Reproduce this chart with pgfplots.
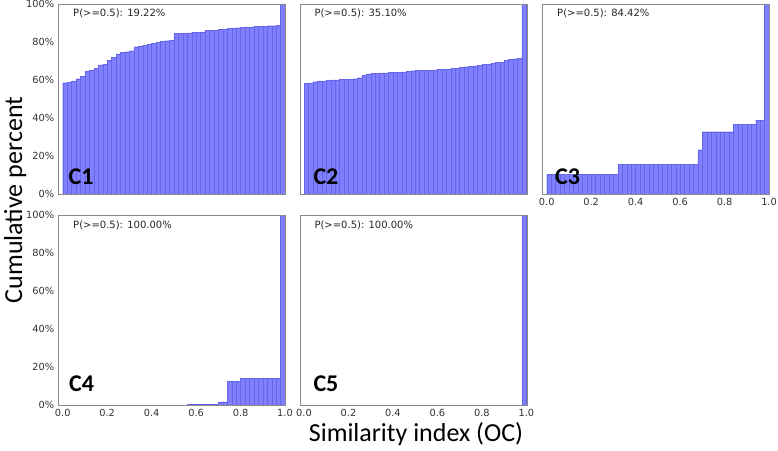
\documentclass[border=0pt]{standalone}
\usepackage{fontspec}
\setmainfont{DejaVu Sans}
\newfontfamily\dejavu{DejaVu Sans}
\newfontfamily\carlito{Carlito}
\usepackage{pgfplots}
\pgfplotsset{compat=1.18}
\definecolor{barfill}{HTML}{7F7FFF}
\definecolor{baredge}{HTML}{6666E8}
\definecolor{framegray}{HTML}{8A8A8A}
\definecolor{ticktext}{HTML}{333333}
\pgfplotsset{
  panel/.style={
    scale only axis, width=227pt, height=190pt,
    xmin=-0.018, xmax=1.003, ymin=0, ymax=100,
    axis line style={framegray, line width=0.8pt},
    axis on top=true,
    major tick length=0pt,
    xtick={0,0.2,0.4,0.6,0.8,1},
    ytick={0,20,40,60,80,100},
    xticklabels={}, yticklabels={},
    tick label style={font=\dejavu\fontsize{9.8}{10}\selectfont, text=ticktext},
    xticklabel style={yshift=-1pt},
    yticklabel style={xshift=-1pt},
    anchor=south west,
  },
  showx/.style={xticklabels={0.0,0.2,0.4,0.6,0.8,1.0}},
  showy/.style={yticklabels={0\%,20\%,40\%,60\%,80\%,100\%}},
  histbar/.style={ybar interval, fill=barfill, draw=baredge, line width=0.3pt},
}
\newcommand{\ptext}[1]{\node[anchor=base west, font=\dejavu\fontsize{10}{12}\selectfont, text=black!85, xshift=11pt, yshift=-13pt] at (rel axis cs:0,1) {#1};}
\newcommand{\clabel}[3]{\node[anchor=base west, font=\carlito\bfseries\fontsize{24}{24}\selectfont, xshift=#2, yshift=#3] at (rel axis cs:0,0) {#1};}
\begin{document}
\begin{tikzpicture}
\useasboundingbox (0,0) rectangle (778pt,450pt);
% C1
\begin{axis}[panel, showy, at={(58.7pt,256pt)}]
\addplot[histbar] coordinates {
(0.00,58.6) (0.02,58.9) (0.04,59.6) (0.06,60.7) (0.08,62.1) (0.10,64.7) (0.12,65.1) (0.14,66.3) (0.16,67.9) (0.18,68.4)
(0.20,70.4) (0.22,72.1) (0.24,73.7) (0.26,74.4) (0.28,74.9) (0.30,75.4) (0.32,77.5) (0.34,77.9) (0.36,78.4) (0.38,78.9)
(0.40,79.3) (0.42,79.8) (0.44,80.4) (0.46,80.7) (0.48,80.8) (0.50,84.4) (0.52,84.5) (0.54,84.6) (0.56,84.8) (0.58,85.0)
(0.60,85.1) (0.62,85.3) (0.64,86.0) (0.66,86.2) (0.68,86.3) (0.70,86.6) (0.72,86.8) (0.74,87.2) (0.76,87.4) (0.78,87.5)
(0.80,87.7) (0.82,87.9) (0.84,88.0) (0.86,88.2) (0.88,88.4) (0.90,88.4) (0.92,88.6) (0.94,88.6) (0.96,88.7) (0.98,100)
(1.00,100)};
\ptext{P(>=0.5): 19.22\%}
\clabel{C1}{6.5pt}{9pt}
\end{axis}
% C2
\begin{axis}[panel, at={(300pt,256pt)}]
\addplot[histbar] coordinates {
(0.00,58.1) (0.02,58.5) (0.04,59.1) (0.06,59.5) (0.08,59.6) (0.10,59.8) (0.12,60.0) (0.14,60.1) (0.16,60.3) (0.18,60.4)
(0.20,60.5) (0.22,60.7) (0.24,61.2) (0.26,62.3) (0.28,63.2) (0.30,63.5) (0.32,63.6) (0.34,63.7) (0.36,63.8) (0.38,63.9)
(0.40,64.0) (0.42,64.1) (0.44,64.3) (0.46,64.5) (0.48,64.9) (0.50,65.0) (0.52,65.0) (0.54,65.1) (0.56,65.2) (0.58,65.3)
(0.60,65.5) (0.62,65.6) (0.64,65.7) (0.66,66.1) (0.68,66.3) (0.70,66.5) (0.72,67.0) (0.74,67.2) (0.76,67.4) (0.78,67.7)
(0.80,68.2) (0.82,68.5) (0.84,68.8) (0.86,69.3) (0.88,69.6) (0.90,70.5) (0.92,70.9) (0.94,71.2) (0.96,71.5) (0.98,100)
(1.00,100)};
\ptext{P(>=0.5): 35.10\%}
\clabel{C2}{10pt}{9pt}
\end{axis}
% C3
\begin{axis}[panel, showx, at={(542.7pt,256pt)}]
\addplot[histbar] coordinates {
(0.00,10.4) (0.02,10.4) (0.04,10.4) (0.06,10.4) (0.08,10.4) (0.10,10.4) (0.12,10.4) (0.14,10.4) (0.16,10.4) (0.18,10.4)
(0.20,10.4) (0.22,10.4) (0.24,10.4) (0.26,10.4) (0.28,10.4) (0.30,10.4) (0.32,15.6) (0.34,15.6) (0.36,15.6) (0.38,15.6)
(0.40,15.6) (0.42,15.6) (0.44,15.6) (0.46,15.6) (0.48,15.6) (0.50,15.6) (0.52,15.6) (0.54,15.6) (0.56,15.6) (0.58,15.6)
(0.60,15.6) (0.62,15.6) (0.64,15.6) (0.66,15.6) (0.68,23.3) (0.70,32.8) (0.72,32.8) (0.74,32.8) (0.76,32.8) (0.78,32.8)
(0.80,32.8) (0.82,32.8) (0.84,36.7) (0.86,36.7) (0.88,36.7) (0.90,36.7) (0.92,36.7) (0.94,38.9) (0.96,38.9) (0.98,100)
(1.00,100)};
\ptext{P(>=0.5): 84.42\%}
\clabel{C3}{9pt}{9pt}
\end{axis}
% C4
\begin{axis}[panel, showx, showy, at={(58.7pt,45pt)}]
\addplot[histbar] coordinates {
(0.56,0.4) (0.58,0.4) (0.60,0.4) (0.62,0.4) (0.64,0.4) (0.66,0.4) (0.68,0.4) (0.70,1.6) (0.72,1.6) (0.74,12.5)
(0.76,12.5) (0.78,12.5) (0.80,13.9) (0.82,13.9) (0.84,13.9) (0.86,13.9) (0.88,13.9) (0.90,13.9) (0.92,13.9) (0.94,13.9)
(0.96,13.9) (0.98,100) (1.00,100)};
\ptext{P(>=0.5): 100.00\%}
\clabel{C4}{7pt}{14pt}
\end{axis}
% C5
\begin{axis}[panel, showx, at={(300pt,45pt)}]
\addplot[histbar] coordinates {(0.98,100) (1.00,100)};
\ptext{P(>=0.5): 100.00\%}
\clabel{C5}{10pt}{14pt}
\end{axis}
\node[rotate=90, anchor=base, font=\carlito\fontsize{26}{26}\selectfont] at (22pt,250pt) {Cumulative percent};
\node[anchor=base, font=\carlito\fontsize{26}{26}\selectfont] at (416pt,9pt) {Similarity index (OC)};
\end{tikzpicture}
\end{document}
